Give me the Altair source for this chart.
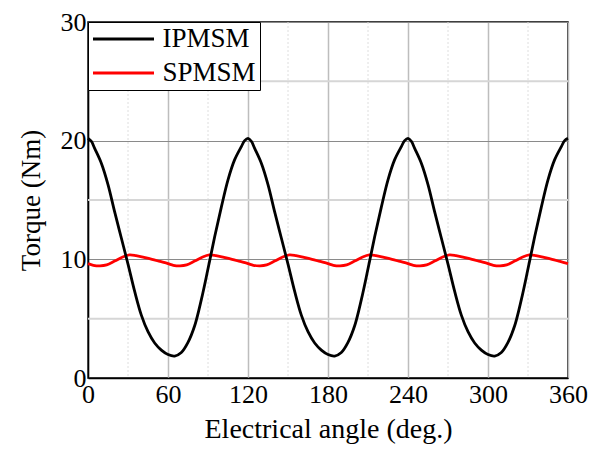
import altair as alt
import pandas as pd

FONT = "Liberation Serif"

# IPMSM torque, read every 5 degrees (plus half steps around the peaks)
ip_angle = [0, 2.5, 5, 10, 15, 20, 25, 30, 35, 40, 45, 50, 55, 60, 65, 70, 75, 80, 85, 90, 95, 100, 105, 110, 115, 117.5,
            120, 122.5, 125, 130, 135, 140, 145, 150, 155, 160, 165, 170, 175, 180, 185, 190, 195, 200, 205, 210, 215, 220, 225, 230, 235, 237.5,
            240, 242.5, 245, 250, 255, 260, 265, 270, 275, 280, 285, 290, 295, 300, 305, 310, 315, 320, 325, 330, 335, 340, 345, 350, 355, 357.5,
            360]
ip_torque = [20.2, 19.95, 19.35, 18.1, 16.3, 14.0, 11.8, 9.6, 7.3, 5.3, 3.9, 2.95, 2.35, 1.98, 1.85, 2.15, 3.0, 4.4, 6.6, 9.2, 11.9, 14.4, 16.7, 18.4, 19.5, 20.0,
             20.2, 19.95, 19.35, 18.1, 16.3, 14.0, 11.8, 9.6, 7.3, 5.3, 3.9, 2.95, 2.35, 1.98, 1.85, 2.15, 3.0, 4.4, 6.6, 9.2, 11.9, 14.4, 16.7, 18.4, 19.5, 20.0,
             20.2, 19.95, 19.35, 18.1, 16.3, 14.0, 11.8, 9.6, 7.3, 5.3, 3.9, 2.95, 2.35, 1.98, 1.85, 2.15, 3.0, 4.4, 6.6, 9.2, 11.9, 14.4, 16.7, 18.4, 19.5, 20.0,
             20.2]

# SPMSM torque
sp_angle = [0, 4, 9, 14, 20, 26, 31, 36, 42, 48, 54,
            60, 64, 69, 74, 80, 86, 91, 96, 102, 108, 114,
            120, 124, 129, 134, 140, 146, 151, 156, 162, 168, 174,
            180, 184, 189, 194, 200, 206, 211, 216, 222, 228, 234,
            240, 244, 249, 254, 260, 266, 271, 276, 282, 288, 294,
            300, 304, 309, 314, 320, 326, 331, 336, 342, 348, 354,
            360]
sp_torque = [9.64, 9.5, 9.45, 9.53, 9.85, 10.2, 10.37, 10.31, 10.16, 10.0, 9.82,
             9.64, 9.5, 9.45, 9.53, 9.85, 10.2, 10.37, 10.31, 10.16, 10.0, 9.82,
             9.64, 9.5, 9.45, 9.53, 9.85, 10.2, 10.37, 10.31, 10.16, 10.0, 9.82,
             9.64, 9.5, 9.45, 9.53, 9.85, 10.2, 10.37, 10.31, 10.16, 10.0, 9.82,
             9.64, 9.5, 9.45, 9.53, 9.85, 10.2, 10.37, 10.31, 10.16, 10.0, 9.82,
             9.64, 9.5, 9.45, 9.53, 9.85, 10.2, 10.37, 10.31, 10.16, 10.0, 9.82,
             9.64]

series_names = ["IPMSM", "SPMSM"]
series_colors = ["#000000", "#ff0000"]

x_major = [0, 60, 120, 180, 240, 300, 360]
x_minor = [30, 90, 150, 210, 270, 330]
y_major = [0, 10, 20, 30]
y_minor = [5, 15, 25]

ip_df = pd.DataFrame({"angle": ip_angle, "torque": ip_torque, "series": "IPMSM"})
sp_df = pd.DataFrame({"angle": sp_angle, "torque": sp_torque, "series": "SPMSM"})

xscale = alt.Scale(domain=[0, 360], nice=False, zero=False)
yscale = alt.Scale(domain=[0, 30], nice=False)

color = alt.Color(
    "series:N",
    scale=alt.Scale(domain=series_names, range=series_colors),
    legend=alt.Legend(
        title=None, orient="none", legendX=0, legendY=0,
        symbolType="stroke", symbolSize=3721, symbolStrokeWidth=3,
        clipHeight=27, rowPadding=6, padding=3.5,
        labelFont=FONT, labelFontSize=27, labelColor="black", labelOffset=7,
        strokeColor="black", fillColor="white",
    ),
)

xenc = alt.X(
    "angle:Q", scale=xscale,
    axis=alt.Axis(values=x_major, title="Electrical angle (deg.)", grid=True,
                  gridColor="#bdbdbd", gridWidth=1.5, labelFlush=False,
                  labelFont=FONT, labelFontSize=26, titleFont=FONT, titleFontSize=28,
                  labelPadding=3, titleY=37),
)
yenc = alt.Y(
    "torque:Q", scale=yscale,
    axis=alt.Axis(values=y_major, title="Torque (Nm)", grid=True,
                  gridColor="#8a8a8a", gridWidth=1.2, labelPadding=2,
                  labelFont=FONT, labelFontSize=26, titleFont=FONT, titleFontSize=27,
                  titleX=-43, titleY=178),
)

minor_x = alt.Chart(pd.DataFrame({"angle": x_minor})).mark_rule(
    color="#dedede", strokeWidth=1, strokeDash=[2, 2]
).encode(x=alt.X("angle:Q", scale=xscale))

minor_y = alt.Chart(pd.DataFrame({"torque": y_minor})).mark_rule(
    color="#d6d6d6", strokeWidth=2
).encode(y=alt.Y("torque:Q", scale=yscale))

sp_line = alt.Chart(sp_df).mark_line(strokeWidth=2.8, interpolate="catmull-rom").encode(
    x=xenc, y=yenc, color=color)
ip_line = alt.Chart(ip_df).mark_line(strokeWidth=2.8, interpolate="catmull-rom").encode(
    x=xenc, y=yenc, color=color)

chart = alt.layer(minor_x, minor_y, sp_line, ip_line).properties(
    width=480, height=356,
    autosize=alt.AutoSizeParams(type="none"),
    padding={"left": 80, "top": 14, "right": 22, "bottom": 68},
).configure_view(
    stroke="black", strokeWidth=1.5
).configure_axis(
    labelFont=FONT, labelFontSize=26, labelColor="black",
    titleFont=FONT, titleFontSize=27, titleFontWeight="normal", titleColor="black",
    ticks=False, domain=True, domainColor="black", domainWidth=1.5,
)

chart.save("out.html", embed_options={"renderer": "svg", "actions": False})
